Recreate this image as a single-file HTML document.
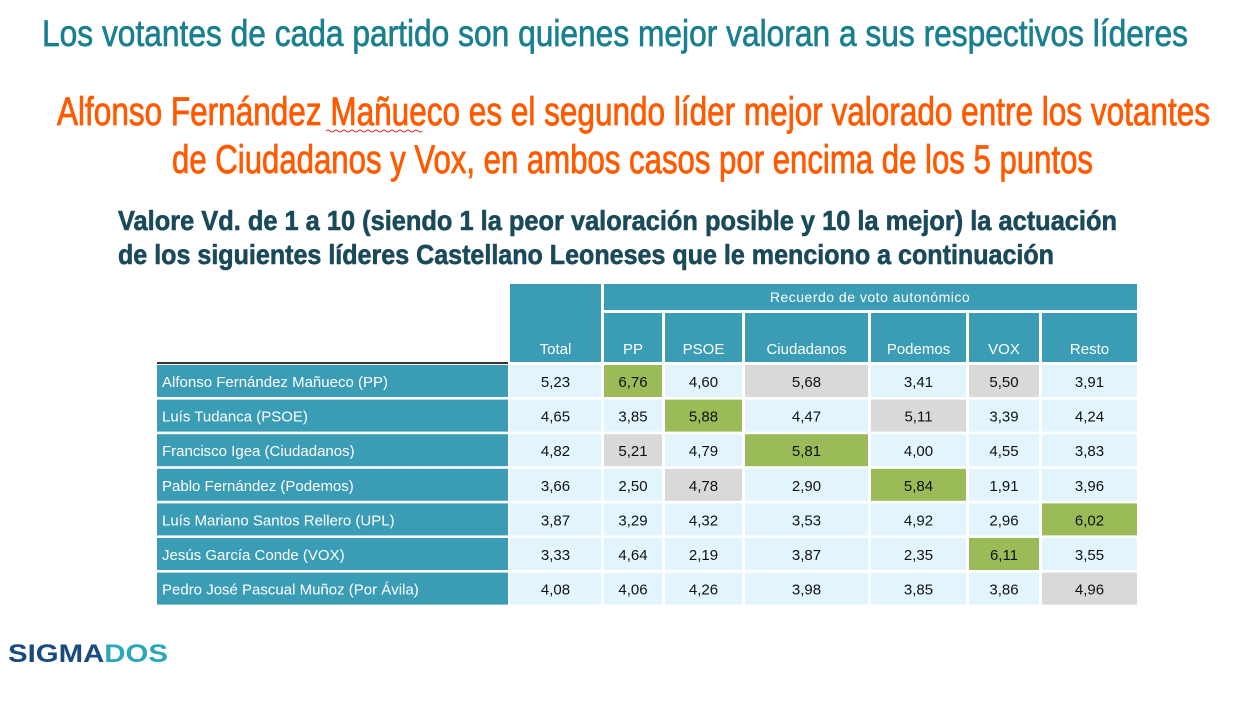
<!DOCTYPE html>
<html><head><meta charset="utf-8"><style>
html,body{margin:0;padding:0;background:#fff;}
svg{display:block;}
text{font-family:"Liberation Sans",sans-serif;}
</style></head><body>
<svg id="s" width="1260" height="709" viewBox="0 0 1260 709" xmlns="http://www.w3.org/2000/svg">
<text x="42" y="46" font-size="37" fill="#1a7f8e" stroke="#1a7f8e" stroke-width="0.7" textLength="1146" lengthAdjust="spacingAndGlyphs">Los votantes de cada partido son quienes mejor valoran a sus respectivos líderes</text>
<text x="57" y="125" font-size="40" fill="#ff5a00" stroke="#ff5a00" stroke-width="0.8" textLength="1153" lengthAdjust="spacingAndGlyphs">Alfonso Fernández Mañueco es el segundo líder mejor valorado entre los votantes</text>
<path d="M326 131 q2 -2 4 0 t4 0 t4 0 t4 0 t4 0 t4 0 t4 0 t4 0 t4 0 t4 0 t4 0 t4 0 t4 0 t4 0 t4 0 t4 0 t4 0 t4 0 t4 0 t4 0 t4 0 t4 0 t4 0 t4 0" stroke="#e03030" fill="none" stroke-width="1"/>
<text x="172" y="173" font-size="40" fill="#ff5a00" stroke="#ff5a00" stroke-width="0.8" textLength="921" lengthAdjust="spacingAndGlyphs">de Ciudadanos  y Vox, en ambos casos por encima de los 5 puntos</text>
<text x="118" y="230" font-size="28" font-weight="bold" fill="#1a4a5a" stroke="#1a4a5a" stroke-width="0.6" textLength="999" lengthAdjust="spacingAndGlyphs">Valore Vd. de 1 a 10 (siendo 1 la peor valoración posible y 10 la mejor) la actuación</text>
<text x="118" y="264" font-size="28" font-weight="bold" fill="#1a4a5a" stroke="#1a4a5a" stroke-width="0.6" textLength="936" lengthAdjust="spacingAndGlyphs">de los siguientes líderes Castellano Leoneses que le menciono a continuación</text>
<g id="tbl"></g>
<text x="8" y="662" font-size="25" font-weight="bold" fill="#1a4a80" textLength="160" lengthAdjust="spacingAndGlyphs">SIGMA<tspan fill="#2aa7b8">DOS</tspan></text>
</svg>
<script>
const leaders=["Alfonso Fernández Mañueco (PP)","Luís Tudanca (PSOE)","Francisco Igea (Ciudadanos)","Pablo Fernández (Podemos)","Luís Mariano Santos Rellero (UPL)","Jesús García Conde (VOX)","Pedro José Pascual Muñoz (Por Ávila)"];
const columns=["Total","PP","PSOE","Ciudadanos","Podemos","VOX","Resto"];
const values=[
[5.23,6.76,4.60,5.68,3.41,5.50,3.91],
[4.65,3.85,5.88,4.47,5.11,3.39,4.24],
[4.82,5.21,4.79,5.81,4.00,4.55,3.83],
[3.66,2.50,4.78,2.90,5.84,1.91,3.96],
[3.87,3.29,4.32,3.53,4.92,2.96,6.02],
[3.33,4.64,2.19,3.87,2.35,6.11,3.55],
[4.08,4.06,4.26,3.98,3.85,3.86,4.96]];
const highlights=[
["","g","","x","","x",""],
["","","g","","x","",""],
["","x","","g","","",""],
["","","x","","g","",""],
["","","","","","","g"],
["","","","","","g",""],
["","","","","","","x"]];
const NS="http://www.w3.org/2000/svg";
const g=document.getElementById('tbl');
function el(t,a,txt){const e=document.createElementNS(NS,t);for(const k in a)e.setAttribute(k,a[k]);if(txt!==undefined)e.textContent=txt;g.appendChild(e);return e;}
const colX=[510,604,665,745,871,969,1042], colR=[601,662,742,868,966,1039,1137];
const TEAL="#3a9cb5";
let r=el('rect',{x:510,y:284,width:91,height:78,fill:TEAL});


r=el('rect',{x:604,y:284,width:533,height:26,fill:TEAL});


let t=el('text',{x:870,y:302,'font-size':14,fill:'#fff','text-anchor':'middle','letter-spacing':'0.5'},"Recuerdo de voto autonómico");


columns.forEach((c,i)=>{
  if(i>0){const h=el('rect',{x:colX[i],y:313,width:colR[i]-colX[i],height:49,fill:TEAL});
  
  }
  const tx=el('text',{x:(colX[i]+colR[i])/2,y:354,'font-size':15,fill:'#fff','text-anchor':'middle'},c);
  
  
});
const ln=el('line',{x1:157,y1:363,x2:508,y2:363,stroke:'#333','stroke-width':2});


const rowY0=365,rowPitch=34.6,rowH=32;
leaders.forEach((name,ri)=>{
  const y=rowY0+ri*rowPitch;
  const lr=el('rect',{x:157,y:y,width:351,height:rowH,fill:TEAL});
  
  
  const lt=el('text',{x:162,y:y+22,'font-size':15,fill:'#fff'},name);
  
  
  values[ri].forEach((v,ci)=>{
    const hl=highlights[ri][ci];
    const fill=hl==='g'?'#9bbb59':hl==='x'?'#d9d9d9':'#e3f5fc';
    const c=el('rect',{x:colX[ci],y:y,width:colR[ci]-colX[ci],height:rowH,fill:fill});
    
    
    const ct=el('text',{x:(colX[ci]+colR[ci])/2,y:y+22,'font-size':15,fill:'#111','text-anchor':'middle'},v.toFixed(2).replace('.',','));
    
    
  });
});
</script>
</body></html>
